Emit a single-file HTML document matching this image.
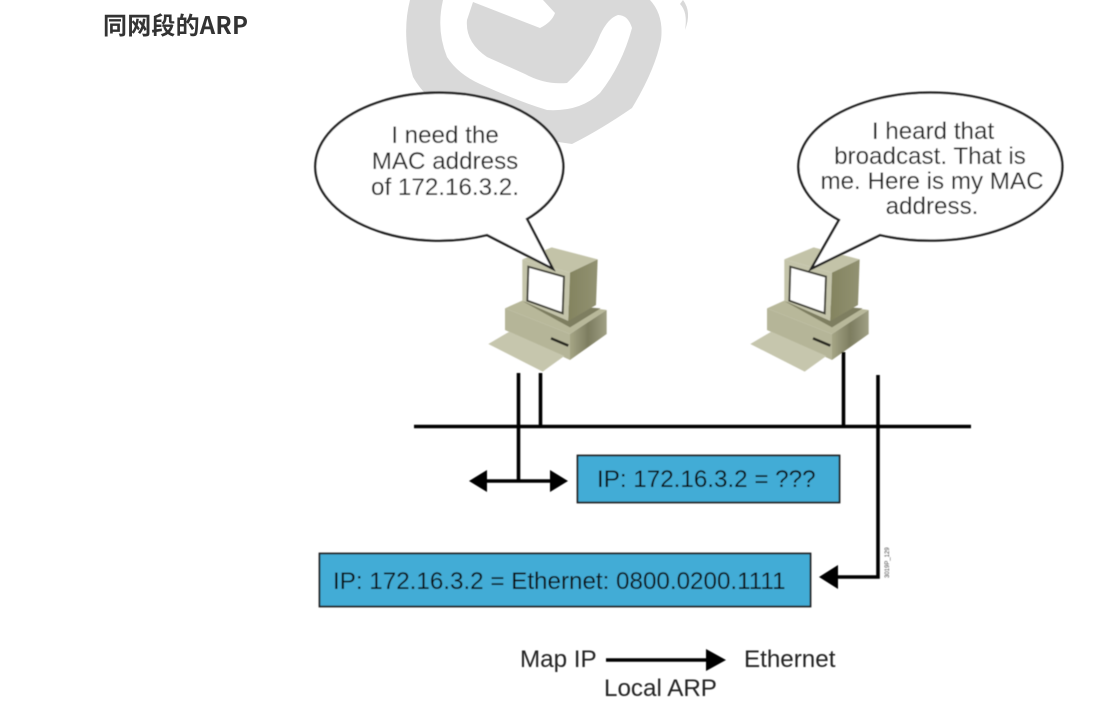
<!DOCTYPE html>
<html><head><meta charset="utf-8"><style>
html,body{margin:0;padding:0;background:#fff;width:1114px;height:710px;overflow:hidden}
svg{display:block}
text{font-family:"Liberation Sans",sans-serif;fill:#222}
</style></head><body>
<svg width="1114" height="710" viewBox="0 0 1114 710" xmlns="http://www.w3.org/2000/svg">
<defs>
<filter id="b" x="-5%" y="-5%" width="110%" height="110%"><feGaussianBlur stdDeviation="0.5"/></filter>
<linearGradient id="side" x1="0" y1="0" x2="1" y2="0"><stop offset="0" stop-color="#83835f"/><stop offset="1" stop-color="#929272"/></linearGradient>
<linearGradient id="bside" x1="0" y1="0" x2="1" y2="0"><stop offset="0" stop-color="#a5a586"/><stop offset=".5" stop-color="#7d7d60"/><stop offset="1" stop-color="#a0a084"/></linearGradient>
<g id="pc">
<path d="M105 235L165 208L410 240L300 312Z" fill="#b8b89a"/>
<path d="M160 215L392 235L300 292Z" fill="#6f6f52" opacity=".8"/>
<path d="M105 235L300 312V390L105 300Z" fill="#b5b598"/>
<path d="M300 312L410 240V312L300 390Z" fill="url(#bside)"/>
<path d="M55 342L118 305L283 378L218 425Z" fill="#c6c6ad"/>
<path d="M243 325L295 347" stroke="#2a2a22" stroke-width="8" fill="none"/>
<path d="M157 88L245 52L383 88L300 128Z" fill="#c3c3a8"/>
<path d="M157 88L300 128L295 273L157 212Z" fill="#c4c4aa"/>
<path d="M300 128L383 88L378 225L295 273Z" fill="url(#side)"/>
<path d="M175 110L282 140L278 250L172 212Z" fill="#fff" stroke="#44443a" stroke-width="6"/>
</g>
</defs>

<!-- watermark -->
<path d="M410 0Q401 35 413 77Q425 98 445 108Q500 135 572 144Q600 130 632 108Q655 70 661 40Q664 15 650 0Z" fill="#d9d9d9"/>
<path d="M443 0Q436 30 447 57Q458 74 480 84Q520 102 547 110Q580 112 600 93Q622 65 632 28Q628 15 618 15Q608 18 600 35Q590 62 567 83Q545 85 525 74L487 57Q465 42 467 20L473 2L540 28Q552 22 555 13L543 0Z" fill="#fff"/>
<path d="M683 0Q692 12 685 30Q688 12 680 4Z" fill="#d9d9d9"/>

<g filter="url(#b)">
<use href="#pc" transform="translate(470 230) scale(.3333)"/>
<use href="#pc" transform="translate(732 230) scale(.3333)"/>

<path d="M487 235A124 74 0 1 1 527 219L553 269Z" fill="#fff" stroke="#222" stroke-width="2.400"/>
<path d="M880 235A132 74 0 1 0 839 220L811 269Z" fill="#fff" stroke="#222" stroke-width="2.400"/>

<g stroke="#000" stroke-width="3.600" fill="none">
<path d="M414 426.500H971"/>
<path d="M518.500 373V480"/>
<path d="M540.500 373V426"/>
<path d="M843.500 352V426"/>
<path d="M878 375V577H835"/>
<path d="M482 481H555"/>
<path d="M606 660H710"/>
</g>
<g fill="#000">
<path d="M469 481L487 470V492Z"/>
<path d="M568 481L550 470V492Z"/>
<path d="M819 577L838 565V589Z"/>
<path d="M726 660L706 649V671Z"/>
</g>

<rect x="577.500" y="455.500" width="262" height="47" fill="#43acd6" stroke="#222" stroke-width="1.800"/>
<rect x="319.500" y="553.500" width="491" height="53" fill="#43acd6" stroke="#222" stroke-width="1.800"/>

<g font-size="24.200">
<text x="445" y="143" text-anchor="middle">I need the</text>
<text x="445" y="169" text-anchor="middle">MAC address</text>
<text x="445" y="195" text-anchor="middle">of 172.16.3.2.</text>
<text x="933" y="139" text-anchor="middle">I heard that</text>
<text x="930" y="164" text-anchor="middle">broadcast. That is</text>
<text x="932" y="189" text-anchor="middle">me. Here is my MAC</text>
<text x="932" y="214" text-anchor="middle">address.</text>
<text x="597" y="487" style="fill:#111">IP: 172.16.3.2 = ???</text>
<text x="333" y="589" style="fill:#111">IP: 172.16.3.2 = Ethernet: 0800.0200.1111</text>
<text x="520" y="667">Map IP</text>
<text x="744" y="667">Ethernet</text>
<text x="604" y="696">Local ARP</text>
</g>
<text transform="translate(889 578) rotate(-90)" font-size="6" style="fill:#444">3019P_129</text>
</g>

<text x="103" y="34" font-size="24" font-weight="700" letter-spacing=".2" style="font-family:'Noto Sans CJK SC','Liberation Sans',sans-serif;fill:#333">同网段的ARP</text>
</svg>
</body></html>
